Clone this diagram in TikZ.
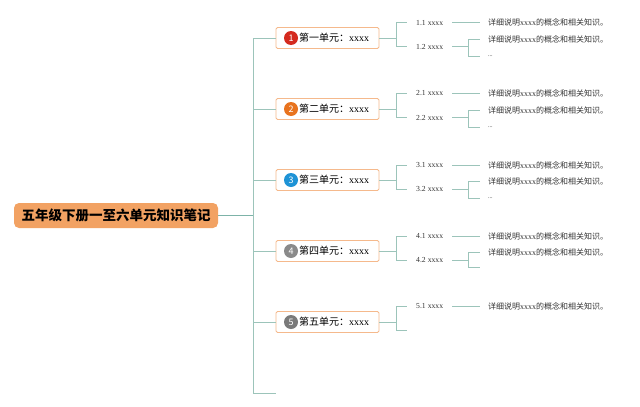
\documentclass[tikz,border=0pt]{standalone}
\usepackage{fontspec}
\setmainfont{Liberation Serif}
\newfontfamily\cjk{Noto Sans CJK SC}
\definecolor{lnc}{HTML}{9CC4BA}
\definecolor{trunkc}{HTML}{7DB3A8}
\definecolor{rootc}{HTML}{F2A263}
\definecolor{boxc}{HTML}{F5B98C}
\definecolor{txtc}{HTML}{333333}
\definecolor{n1c}{HTML}{D42A1E}
\definecolor{n2c}{HTML}{E8731E}
\definecolor{n3c}{HTML}{1E93D6}
\definecolor{n4c}{HTML}{8A8A8A}
\definecolor{n5c}{HTML}{7A7A7A}
\tikzset{
  ln/.style={draw=lnc, line width=0.8pt},
  trunk/.style={draw=trunkc, line width=1pt},
  rootbox/.style={fill=rootc, rounded corners=5pt, minimum width=204pt, minimum height=25pt, inner sep=0pt, font=\fontsize{13.5}{16}\selectfont\cjk\bfseries, text=black},
  unitbox/.style={draw=boxc, fill=white, line width=0.9pt, rounded corners=1.5pt, minimum width=103pt, minimum height=21pt, inner sep=0pt},
  unittxt/.style={inner sep=0pt, font=\fontsize{10}{12}\selectfont, text=black},
  numc/.style={circle, fill=#1, minimum size=14pt, inner sep=0pt, text=white, font=\fontsize{9}{10}\selectfont\cjk},
  sublbl/.style={inner xsep=9pt, inner ysep=1pt, font=\fontsize{7.7}{9}\selectfont, text=txtc},
  detail/.style={inner xsep=8pt, inner ysep=1pt, font=\fontsize{8}{10}\selectfont, text=txtc},
  dots/.style={inner xsep=8pt, inner ysep=1pt, font=\fontsize{6}{7}\selectfont, text=txtc}
}
\begin{document}
\begin{tikzpicture}[x=1pt,y=-1pt]
\useasboundingbox (0,0) rectangle (640,407);
% root
\node[rootbox] (root) at (116,215.5) {五年级下册一至六单元知识笔记};
\coordinate (tr0) at (253,215.5);
\coordinate (trtop) at (253,38);
\coordinate (trbot) at (253,393);
\coordinate (trend) at (276,393);
\draw[trunk] (root.east) -- (tr0);
\draw[ln] (trtop) -- (trbot) -- (trend);
% units
\foreach \i/\y/\c/\t in {1/38/n1c/一, 2/109/n2c/二, 3/180/n3c/三, 4/251/n4c/四, 5/322/n5c/五}{
  \node[unitbox] (u\i) at (327.5,\y) {};
  \node[numc=\c] (n\i) at (291,\y) {\i};
  \node[unittxt, anchor=west] (t\i) at (299,\y) {{\cjk 第\t 单元：}xxxx};
  \coordinate (tj\i) at (253,\y);
  \draw[ln] (tj\i) -- (u\i.west);
  \draw[ln] (u\i.east) -- ++(17,0) coordinate (j\i);
}
% sub labels
\node[sublbl, anchor=west] (l11) at (407,22.7) {1.1 xxxx};
\node[sublbl, anchor=west] (l12) at (407,46.7) {1.2 xxxx};
\node[sublbl, anchor=west] (l21) at (407,93.3) {2.1 xxxx};
\node[sublbl, anchor=west] (l22) at (407,117.7) {2.2 xxxx};
\node[sublbl, anchor=west] (l31) at (407,165) {3.1 xxxx};
\node[sublbl, anchor=west] (l32) at (407,189.3) {3.2 xxxx};
\node[sublbl, anchor=west] (l41) at (407,236) {4.1 xxxx};
\node[sublbl, anchor=west] (l42) at (407,260) {4.2 xxxx};
\node[sublbl, anchor=west] (l51) at (407,306) {5.1 xxxx};
\coordinate (e52) at (407,330);
\foreach \i in {1,2,3,4}{
  \draw[ln] (j\i) |- (l\i1.west);
  \draw[ln] (j\i) |- (l\i2.west);
}
\draw[ln] (j5) |- (l51.west);
\draw[ln] (j5) |- (e52);
% details
\newcommand{\dtxt}{{\cjk 详细说明}xxxx{\cjk 的概念和相关知识。}}
\node[detail, anchor=west] (d11) at (480,22.7) {\dtxt};
\node[detail, anchor=west] (d12a) at (480,39.5) {\dtxt};
\node[dots, anchor=west] (d12b) at (480,56) {...};
\node[detail, anchor=west] (d21) at (480,93.3) {\dtxt};
\node[detail, anchor=west] (d22a) at (480,110) {\dtxt};
\node[dots, anchor=west] (d22b) at (480,127) {...};
\node[detail, anchor=west] (d31) at (480,165) {\dtxt};
\node[detail, anchor=west] (d32a) at (480,181.7) {\dtxt};
\node[dots, anchor=west] (d32b) at (480,198.5) {...};
\node[detail, anchor=west] (d41) at (480,236) {\dtxt};
\node[detail, anchor=west] (d42a) at (480,252.3) {\dtxt};
\coordinate (d42b) at (480,267.7);
\node[detail, anchor=west] (d51) at (480,306) {\dtxt};
\foreach \i in {1,2,3,4,5}{
  \draw[ln] (l\i1.east) -- (d\i1.west);
}
\foreach \i in {1,2,3}{
  \draw[ln] (l\i2.east) -- ++(16,0) coordinate (k\i);
  \draw[ln] (k\i) |- (d\i2a.west);
  \draw[ln] (k\i) |- (d\i2b.west);
}
\draw[ln] (l42.east) -- ++(16,0) coordinate (k4);
\draw[ln] (k4) |- (d42a.west);
\draw[ln] (k4) |- (d42b);
\end{tikzpicture}
\end{document}
